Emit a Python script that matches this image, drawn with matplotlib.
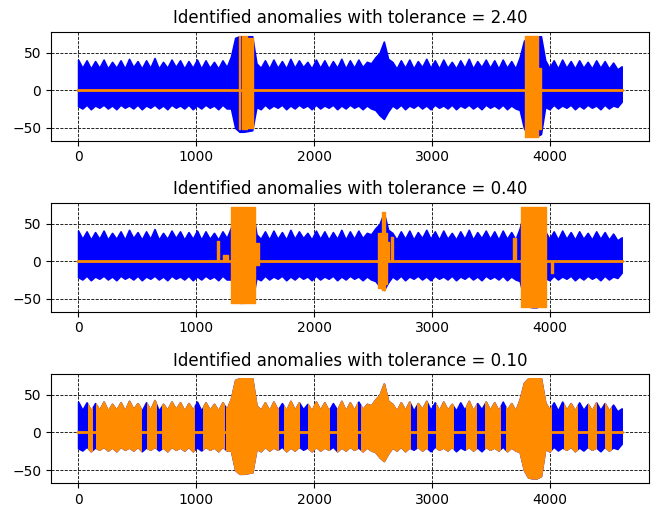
import numpy as np
import matplotlib.pyplot as plt
from matplotlib.patches import Rectangle

# ---------------------------
# Signal envelope, one knot every half beat
# ---------------------------
knot_x = np.arange(0, 4609, 36)

upper = [41, 30, 40, 29, 39, 30, 41, 29, 38, 30, 40, 29, 42, 31, 39, 29,
         40, 30, 43, 29, 38, 30, 41, 31, 40, 29, 39, 30, 41, 29, 40, 30,
         38, 29, 40, 31,
         45, 70, 72, 72, 72, 72, 36,
         30, 40, 29, 41, 30, 39, 29, 42, 30, 40, 31, 38, 29, 41, 30, 40,
         29, 39, 30, 42, 29, 40, 30, 41, 31,
         38, 36, 44, 50, 65, 42, 38,
         29, 40, 30, 41, 29, 39, 31, 42, 30, 40, 29, 41, 30, 38, 29, 40,
         30, 42, 29, 39, 31, 41, 30, 40, 29, 41, 30, 39, 29,
         44, 66, 72, 72, 72, 72, 40,
         30, 40, 29, 41, 30, 39, 29, 40, 30, 38, 29, 40, 30, 39, 29, 37,
         28, 32]

lower = [-21, -24, -19, -25, -20, -23, -19, -24, -20, -25, -19, -23, -20, -24, -19, -25, -20, -23,
         -19, -24, -20, -25, -19, -23, -20, -24, -19, -25, -20, -24, -19, -23, -20, -25, -19, -24,
         -24, -50, -55, -55, -54, -53, -22,
         -25, -19, -24, -20, -23, -19, -25, -20, -24, -19, -23, -20, -25, -19, -24, -20, -23, -19,
         -25, -20, -24, -19, -23, -20, -25,
         -20, -24, -26, -33, -38, -28, -20,
         -24, -19, -25, -20, -23, -19, -24, -20, -25, -19, -23, -20, -24, -19, -25, -20, -23, -19,
         -24, -20, -25, -19, -23, -20, -24, -19, -25, -20, -24,
         -26, -50, -60, -61, -61, -58, -22,
         -25, -19, -24, -20, -23, -19, -25, -20, -24, -19, -23, -20, -25, -19, -24, -20, -22, -15]

signal_end = 4608
tolerances = [2.40, 0.40, 0.10]

# ---------------------------
# Anomalies, tolerance 2.40 (start, end, max, min)
# ---------------------------
a1_start = [1360, 1389, 1437, 3788, 3900]
a1_end = [1375, 1429, 1480, 3900, 3923]
a1_max = [72, 72, 70, 72, 30]
a1_min = [-52, -52, -50, -62, -52]

# ---------------------------
# Anomalies, tolerance 0.40
# ---------------------------
a2_start = [1180, 1225, 1300, 1510, 2540, 2575, 2600, 2625, 2655, 3685, 3755, 4005]
a2_end = [1192, 1270, 1500, 1530, 2575, 2600, 2615, 2640, 2670, 3715, 3965, 4022]
a2_max = [27, 8, 72, 25, 38, 66, 38, 26, 32, 31, 72, 0]
a2_min = [0, 0, -55, -5, -36, -38, -30, 0, 0, 0, -61, -15]

# ---------------------------
# Anomalies, tolerance 0.10 (follow the signal)
# ---------------------------
a3_start = [80, 152, 587, 714, 1058, 1257, 1746, 1946, 2199, 2399, 2870, 3033,
            3286, 3449, 3630, 4120, 4319, 4464]
a3_end = [116, 533, 659, 985, 1239, 1692, 1873, 2127, 2362, 2815, 2960, 3178,
          3377, 3576, 4011, 4228, 4391, 4522]

blue = "blue"
orange = "darkorange"

fig, axes = plt.subplots(3, 1, figsize=(6.62, 5.05), dpi=100)
fig.subplots_adjust(left=0.077, right=0.980, top=0.937, bottom=0.044, hspace=0.57)

for i, ax in enumerate(axes):
    ax.set_axisbelow(True)
    ax.grid(True, color="black", linestyle="--", linewidth=0.6)
    ax.fill_between(knot_x, lower, upper, color=blue, lw=1.2, zorder=2)
    ax.plot([0, signal_end], [0, 0], color=orange, lw=2, zorder=3)

    if i < 2:
        st, en, mx, mn = [(a1_start, a1_end, a1_max, a1_min),
                          (a2_start, a2_end, a2_max, a2_min)][i]
        for s, e, hi, lo in zip(st, en, mx, mn):
            ax.fill_between([s, e], [lo, lo], [hi, hi], color=orange, lw=1, zorder=3)
    else:
        # orange copy of the signal, clipped to each anomalous stretch
        for s, e in zip(a3_start, a3_end):
            poly = ax.fill_between(knot_x, lower, upper, color=orange, lw=1.2, zorder=3)
            poly.set_clip_path(Rectangle((s, -100), e - s, 200, transform=ax.transData))

    ax.set_xlim(-230, 4838)
    ax.set_ylim(-67, 78)
    ax.set_yticks([-50, 0, 50])
    ax.set_xticks([0, 1000, 2000, 3000, 4000])
    ax.set_title("Identified anomalies with tolerance = %.2f" % tolerances[i])

plt.savefig("out.png", dpi=100)
plt.close()
